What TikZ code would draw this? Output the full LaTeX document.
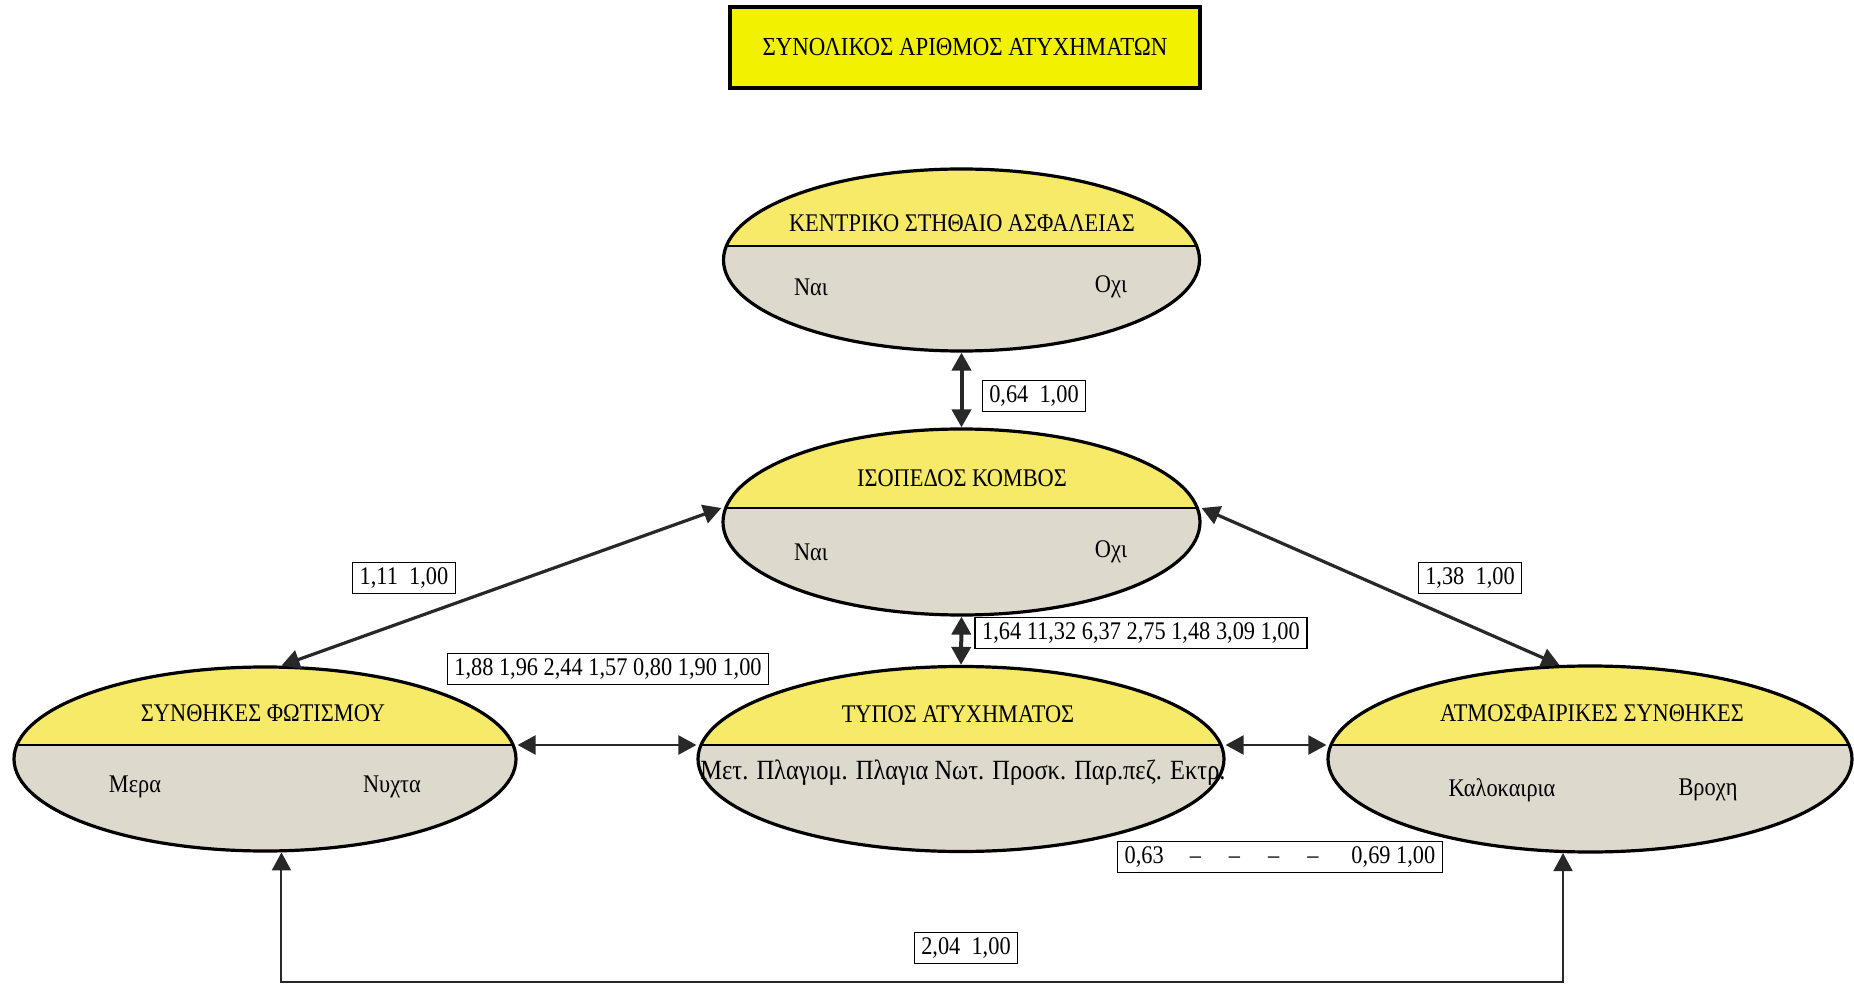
\documentclass[tikz,border=0pt]{standalone}
\usepackage{fontspec}
\setmainfont{Liberation Serif}[FakeStretch=0.88]
\usetikzlibrary{arrows.meta,shapes.geometric}
\definecolor{titleyellow}{RGB}{242,242,0}
\definecolor{ellyellow}{RGB}{246,234,104}
\definecolor{ellgrey}{RGB}{221,217,205}
\definecolor{linec}{RGB}{40,40,40}
\tikzset{
  ellnode/.style 2 args={ellipse, draw=black, line width=1.6pt, fill=ellgrey,
    inner sep=0pt, minimum width=#1, minimum height=#2,
    path picture={
      \fill[ellyellow] ([yshift=7pt]path picture bounding box.west) rectangle (path picture bounding box.north east);
      \draw[black, line width=1pt] ([yshift=7pt]path picture bounding box.west) -- ([yshift=7pt]path picture bounding box.east);
    }},
  txt/.style={inner sep=0pt, font=\fontsize{12.7pt}{15pt}\selectfont},
  lab/.style={draw=black, line width=0.7pt, fill=white, inner xsep=3.5pt, inner ysep=2.5pt,
    font=\fontsize{12.7pt}{15pt}\selectfont},
  conn/.style={draw=linec, {Triangle[length=9pt,width=9.5pt]}-{Triangle[length=9pt,width=9.5pt]}},
}
\begin{document}
\begin{tikzpicture}[x=0.5pt,y=-0.5pt]
\useasboundingbox (0,0) rectangle (1854,984);

% title
\node[draw=black, line width=2pt, fill=titleyellow, minimum width=235pt, minimum height=40.5pt,
      inner sep=0pt, font=\fontsize{13pt}{15pt}\selectfont] (title) at (965,47.5)
      {ΣΥΝΟΛΙΚΟΣ ΑΡΙΘΜΟΣ ΑΤΥΧΗΜΑΤΩΝ};

% ellipses
\node[ellnode={238pt}{91pt}] (kent) at (961.5,260) {};
\node[ellnode={238.5pt}{93pt}] (iso) at (961.5,522) {};
\node[ellnode={251pt}{92pt}] (sf) at (265,759) {};
\node[ellnode={263pt}{92.5pt}] (typ) at (961,759) {};
\node[ellnode={262pt}{93pt}] (atm) at (1590,759) {};

% ellipse texts
\node[txt] (kentt) at (962,223) {ΚΕΝΤΡΙΚΟ ΣΤΗΘΑΙΟ ΑΣΦΑΛΕΙΑΣ};
\node[txt] (kenta) at (811,287) {Ναι};
\node[txt] (kentb) at (1111,287) {Οχι};
\node[txt] (isot) at (962,478) {ΙΣΟΠΕΔΟΣ ΚΟΜΒΟΣ};
\node[txt] (isoa) at (811,552) {Ναι};
\node[txt] (isob) at (1111,552) {Οχι};
\node[txt] (sft) at (263,713) {ΣΥΝΘΗΚΕΣ ΦΩΤΙΣΜΟΥ};
\node[txt] (sfa) at (135,787) {Μερα};
\node[txt] (sfb) at (392,787) {Νυχτα};
\node[txt] (typt) at (958,714) {ΤΥΠΟΣ ΑΤΥΧΗΜΑΤΟΣ};
\node[txt, font=\fontsize{13.9pt}{16pt}\selectfont] (typs) at (963,773) {Μετ. Πλαγιομ. Πλαγια Νωτ. Προσκ. Παρ.πεζ. Εκτρ.};
\node[txt] (atmt) at (1592,713) {ΑΤΜΟΣΦΑΙΡΙΚΕΣ ΣΥΝΘΗΚΕΣ};
\node[txt] (atma) at (1502,790) {Καλοκαιρια};
\node[txt] (atmb) at (1708,790) {Βροχη};

% connectors
\draw[conn, line width=2pt] (kent.south) -- (iso.north);
\draw[conn, line width=2pt] (iso.south) -- (typ.north);
\draw[conn, line width=1.6pt] ([yshift=7pt]iso.west) -- (sf.80);
\draw[conn, line width=1.6pt] ([yshift=7pt]iso.east) -- (atm.108);
\draw[conn, line width=1.2pt] ([yshift=7pt]sf.east) -- ([yshift=7pt]typ.west);
\draw[conn, line width=1.2pt] ([yshift=7pt]typ.east) -- ([yshift=7pt]atm.west);
\coordinate (loopc) at (966,982);
\draw[conn, line width=1pt] (sf.-80) |- (loopc) -| (atm.-106);

% value labels
\node[lab] (l1) at (1034,396) {0,64~~1,00};
\node[lab] (l2) at (1141,633) {1,64 11,32 6,37 2,75 1,48 3,09 1,00};
\node[lab] (l3) at (404,578) {1,11~~1,00};
\node[lab] (l4) at (1470,578) {1,38~~1,00};
\node[lab] (l5) at (608,669) {1,88 1,96 2,44 1,57 0,80 1,90 1,00};
\node[lab] (l6) at (1280,857) {0,63\hspace{13pt}–\hspace{14pt}–\hspace{14pt}–\hspace{14pt}–\hspace{16.5pt}0,69 1,00};
\node[lab] (l7) at (966,948) {2,04~~1,00};
\end{tikzpicture}
\end{document}
